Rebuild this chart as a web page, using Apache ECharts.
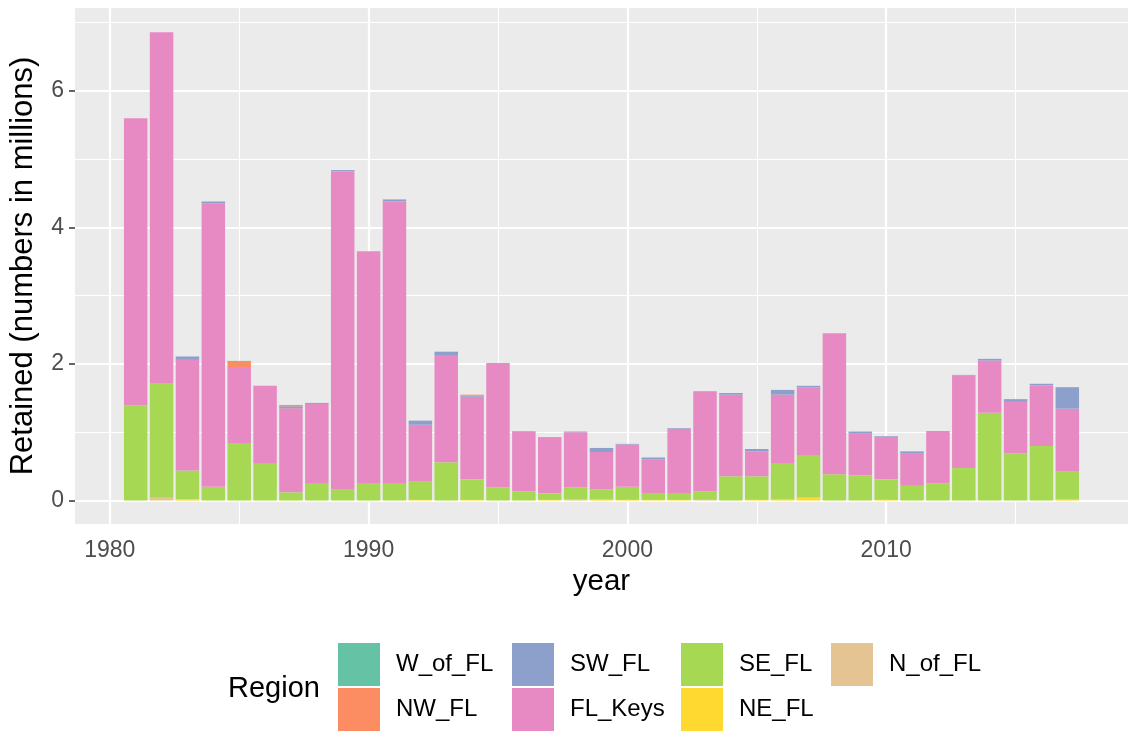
<!DOCTYPE html>
<html>
<head>
<meta charset="utf-8">
<script src="https://cdn.jsdelivr.net/npm/echarts@6.0.0/dist/echarts.min.js"></script>
<style>
  html, body { margin: 0; padding: 0; background: #fff; }
  #chart { width: 1128px; height: 734px; }
</style>
</head>
<body>
<div id="chart"></div>
<script>
// retained catch by region, millions of fish
const years = [1981, 1982, 1983, 1984, 1985, 1986, 1987, 1988, 1989, 1990,
  1991, 1992, 1993, 1994, 1995, 1996, 1997, 1998, 1999, 2000,
  2001, 2002, 2003, 2004, 2005, 2006, 2007, 2008, 2009, 2010,
  2011, 2012, 2013, 2014, 2015, 2016, 2017];

const nOfFl = [0, 0.04, 0, 0, 0, 0, 0, 0, 0, 0,
  0, 0, 0, 0, 0, 0, 0, 0.02, 0, 0,
  0, 0, 0.01, 0, 0, 0, 0, 0, 0, 0,
  0, 0, 0, 0, 0, 0, 0];
const neFl = [0, 0, 0.02, 0, 0, 0, 0, 0, 0, 0,
  0, 0.01, 0, 0.01, 0, 0, 0.01, 0, 0.015, 0.01,
  0.01, 0.01, 0, 0, 0.01, 0.015, 0.045, 0, 0, 0.01,
  0, 0, 0, 0, 0, 0, 0.015];
const seFl = [1.39, 1.68, 0.42, 0.20, 0.83, 0.54, 0.12, 0.245, 0.17, 0.245,
  0.245, 0.27, 0.56, 0.30, 0.19, 0.135, 0.095, 0.17, 0.145, 0.19,
  0.09, 0.09, 0.125, 0.355, 0.345, 0.525, 0.61, 0.385, 0.365, 0.30,
  0.215, 0.255, 0.475, 1.285, 0.69, 0.80, 0.415];
const flKeys = [4.21, 5.14, 1.62, 4.15, 1.125, 1.14, 1.23, 1.17, 4.65, 3.405,
  4.14, 0.83, 1.57, 1.21, 1.825, 0.87, 0.815, 0.81, 0.55, 0.62,
  0.505, 0.95, 1.455, 1.195, 0.365, 1.01, 1.005, 2.065, 0.615, 0.625,
  0.47, 0.765, 1.355, 0.765, 0.755, 0.89, 0.915];
const swFl = [0, 0, 0.05, 0.03, 0, 0, 0.03, 0.015, 0.02, 0,
  0.025, 0.06, 0.05, 0.02, 0, 0.01, 0.01, 0.01, 0.06, 0.01,
  0.025, 0.01, 0.01, 0.025, 0.035, 0.07, 0.02, 0, 0.03, 0.01,
  0.035, 0, 0.01, 0.025, 0.04, 0.02, 0.315];
const nwFl = [0, 0, 0, 0, 0.075, 0, 0.02, 0, 0, 0,
  0, 0, 0, 0.01, 0, 0, 0, 0, 0, 0,
  0, 0, 0, 0, 0, 0, 0, 0, 0, 0,
  0, 0, 0, 0, 0, 0, 0];
const wOfFl = [0, 0, 0, 0, 0.015, 0, 0, 0, 0, 0,
  0, 0, 0, 0, 0, 0, 0, 0, 0, 0,
  0, 0, 0, 0, 0, 0, 0, 0, 0, 0,
  0, 0, 0, 0, 0, 0, 0];

const xTicks = [1980, 1990, 2000, 2010];
const xMinor = [1985, 1995, 2005, 2015];
const yTicks = [0, 2, 4, 6];
const yMinor = [1, 3, 5, 7];

// legend order (ggplot stacks the first level on top)
const regions = [
  { name: "W_of_FL", values: wOfFl, color: "#66C2A5" },
  { name: "NW_FL", values: nwFl, color: "#FC8D62" },
  { name: "SW_FL", values: swFl, color: "#8DA0CB" },
  { name: "FL_Keys", values: flKeys, color: "#E78AC3" },
  { name: "SE_FL", values: seFl, color: "#A6D854" },
  { name: "NE_FL", values: neFl, color: "#FFD92F" },
  { name: "N_of_FL", values: nOfFl, color: "#E5C494" },
];

const FONT = "Liberation Sans, Arial, sans-serif";

function buildBarSeries() {
  // bottom of the stack first; value first in each row so it is the stacked dim
  return regions.slice().reverse().map((region) => ({
    name: region.name,
    type: "bar",
    stack: "total",
    barWidth: 23.5,
    z: 2,
    encode: { x: 1, y: 0 },
    itemStyle: { color: region.color },
    emphasis: { disabled: true },
    data: years.map((year, i) => [region.values[i], year]),
  }));
}

function gridLineSeries() {
  const major = { color: "#ffffff", width: 2.2, type: "solid" };
  const minor = { color: "#ffffff", width: 1.1, type: "solid" };
  const lines = [];
  xMinor.forEach((v) => lines.push({ xAxis: v, lineStyle: minor }));
  yMinor.forEach((v) => lines.push({ yAxis: v, lineStyle: minor }));
  xTicks.forEach((v) => lines.push({ xAxis: v, lineStyle: major }));
  yTicks.forEach((v) => lines.push({ yAxis: v, lineStyle: major }));
  return {
    name: "grid",
    type: "line",
    data: [],
    silent: true,
    markLine: {
      z: 1,
      silent: true,
      animation: false,
      symbol: ["none", "none"],
      label: { show: false },
      emphasis: { disabled: true },
      data: lines,
    },
  };
}

function buildLegends() {
  const columns = [
    { names: ["W_of_FL", "NW_FL"], left: 338 },
    { names: ["SW_FL", "FL_Keys"], left: 512 },
    { names: ["SE_FL", "NE_FL"], left: 681 },
    { names: ["N_of_FL"], left: 831 },
  ];
  return columns.map((col) => ({
    data: col.names,
    orient: "vertical",
    left: col.left,
    top: 643,
    padding: 0,
    itemGap: 2,
    itemWidth: 42,
    itemHeight: 43,
    icon: "rect",
    selectedMode: false,
    textStyle: { fontFamily: FONT, fontSize: 24, color: "#000", padding: [0, 0, 0, 11] },
  }));
}

const chart = echarts.init(document.getElementById("chart"));
chart.setOption({
  animation: false,
  grid: {
    left: 74,
    right: -8,
    top: 8,
    bottom: 210,
    show: true,
    backgroundColor: "#EBEBEB",
    borderWidth: 0,
  },
  legend: buildLegends(),
  graphic: [
    {
      type: "text",
      x: 228,
      y: 689,
      style: { text: "Region", fontFamily: FONT, fontSize: 29, fill: "#000", verticalAlign: "middle" },
    },
  ],
  xAxis: {
    type: "value",
    min: 1978.655,
    max: 2019.345,
    name: "year",
    nameLocation: "middle",
    nameGap: 42,
    nameTextStyle: { fontFamily: FONT, fontSize: 29.5, color: "#000" },
    axisLine: { show: false },
    axisTick: { show: true, length: 6, customValues: xTicks, lineStyle: { color: "#333", width: 1.5 } },
    axisLabel: {
      customValues: xTicks,
      margin: 15,
      fontFamily: FONT,
      fontSize: 23,
      color: "#4D4D4D",
      formatter: (value) => String(value),
    },
    splitLine: { show: false },
  },
  yAxis: {
    type: "value",
    min: -0.344,
    max: 7.214,
    name: "Retained (numbers in millions)",
    nameLocation: "middle",
    nameGap: 36,
    nameTextStyle: { fontFamily: FONT, fontSize: 31, color: "#000" },
    axisLine: { show: false },
    axisTick: { show: true, length: 6, customValues: yTicks, lineStyle: { color: "#333", width: 1.5 } },
    axisLabel: { customValues: yTicks, margin: 11, fontFamily: FONT, fontSize: 23, color: "#4D4D4D" },
    splitLine: { show: false },
  },
  series: [gridLineSeries(), ...buildBarSeries()],
});
</script>
</body>
</html>
